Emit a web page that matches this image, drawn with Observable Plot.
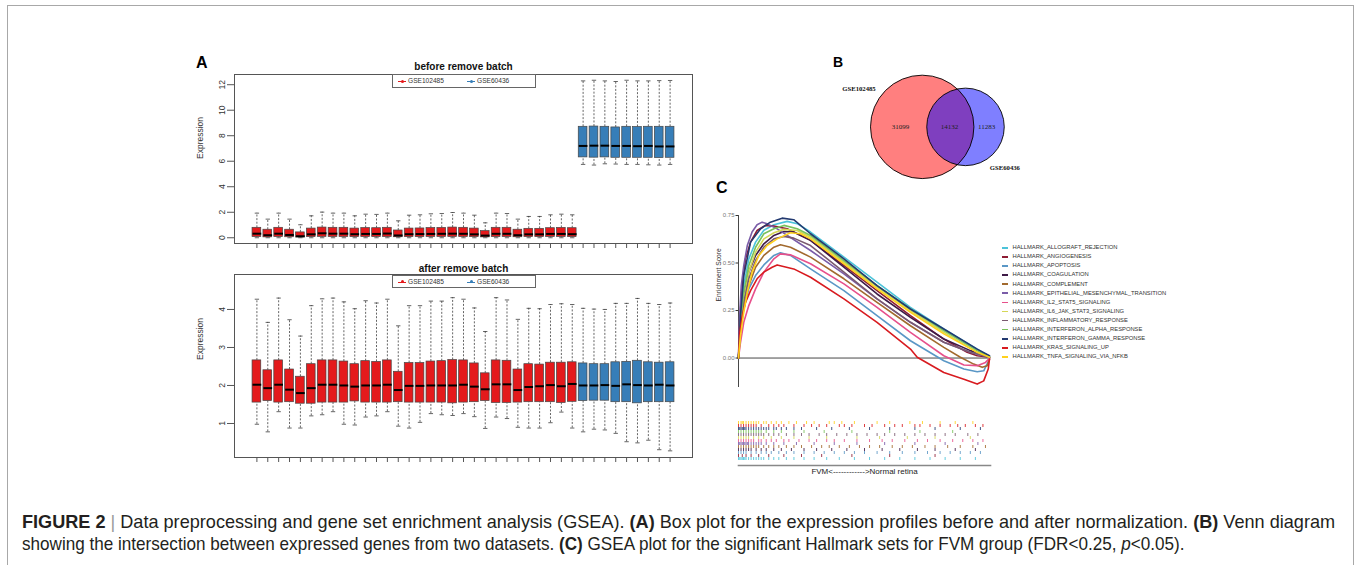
<!DOCTYPE html>
<html><head><meta charset="utf-8">
<script src="https://cdn.jsdelivr.net/npm/d3@7"></script>
<script src="https://cdn.jsdelivr.net/npm/@observablehq/plot@0.6"></script>
<style>
html,body{margin:0;padding:0;background:#fff;}
body{width:1356px;height:565px;overflow:hidden;position:relative;font-family:"Liberation Sans",Arial,sans-serif;}
.border{position:absolute;left:7px;top:5px;width:1347px;height:620px;border:1.6px solid #a8a8a8;box-sizing:border-box;}
.plab{position:absolute;font-weight:bold;line-height:1;color:#000;}
.leg{position:absolute;border:1px solid #666;box-sizing:border-box;background:#fff;font-size:6.6px;color:#333;}
.leg .it{position:absolute;top:0;line-height:12px;}
.leg .sw{position:absolute;height:1px;}
.leg .pt{position:absolute;width:3px;height:3px;border-radius:50%;}
.gleg{position:absolute;left:1001px;top:243.2px;font-size:5.8px;color:#333;line-height:9.1px;}
.gleg div{position:relative;padding-left:11.5px;white-space:nowrap;}
.gleg span{position:absolute;left:1px;top:3.8px;width:6px;height:1.6px;}
#cap{position:absolute;left:22px;top:511px;font-family:"Liberation Sans",Arial,sans-serif;font-size:19px;line-height:22px;color:#231f20;white-space:nowrap;}
#cap .ln{display:block;transform-origin:0 0;}
#cap .bar{color:#9a9a9a;font-weight:normal;}
</style></head><body>
<div class="border"></div>
<script>
// ---------------- DATA ----------------
// Panel A: boxplot statistics per sample (30 GSE102485 + 9 GSE60436)
const groupNames = ["GSE102485", "GSE60436"];
const groupColors = ["#E41A1C", "#377EB8"];
const sampleGroup = [...Array(30).fill("GSE102485"), ...Array(9).fill("GSE60436")];

const beforeHigh = [1.93,1.46,1.93,1.46,1.02,1.72,2.01,1.93,1.93,1.72,1.85,1.83,1.93,1.33,1.77,1.80,1.88,1.90,1.98,1.93,1.77,1.17,1.93,1.90,1.46,1.67,1.67,1.80,1.85,1.80,
  12.30,12.35,12.30,12.25,12.35,12.30,12.30,12.32,12.33];
const beforeQ3 = [0.78,0.63,0.78,0.63,0.42,0.72,0.80,0.78,0.78,0.72,0.76,0.75,0.78,0.57,0.72,0.73,0.76,0.77,0.80,0.78,0.72,0.52,0.78,0.78,0.63,0.70,0.70,0.75,0.77,0.75,
  8.70,8.72,8.70,8.65,8.70,8.68,8.70,8.70,8.70];
const beforeMed = [0.32,0.20,0.32,0.22,0.12,0.27,0.35,0.32,0.32,0.28,0.30,0.30,0.33,0.18,0.28,0.29,0.30,0.31,0.32,0.31,0.27,0.17,0.31,0.31,0.20,0.27,0.27,0.30,0.30,0.28,
  7.20,7.22,7.22,7.20,7.20,7.18,7.20,7.16,7.16];
const beforeQ1 = [0.06,0.03,0.06,0.04,0.02,0.05,0.07,0.06,0.06,0.05,0.06,0.06,0.06,0.04,0.05,0.05,0.06,0.06,0.06,0.06,0.05,0.03,0.06,0.06,0.04,0.05,0.05,0.06,0.06,0.05,
  6.30,6.28,6.30,6.27,6.27,6.27,6.27,6.25,6.27];
const beforeLow = [0,0,0,0,0,0,0,0,0,0,0,0,0,0,0,0,0,0,0,0,0,0,0,0,0,0,0,0,0,0,
  5.75,5.70,5.80,5.78,5.75,5.75,5.72,5.70,5.75];

const afterHigh = [4.27,3.66,4.30,3.73,3.30,4.10,4.28,4.30,4.20,4.02,4.23,4.17,4.27,3.57,4.10,4.10,4.22,4.22,4.31,4.27,4.04,3.42,4.31,4.25,3.74,4.03,4.02,4.13,4.15,4.13,
  4.03,4.01,4.00,4.16,4.16,4.29,4.16,4.13,4.17];
const afterQ3 = [2.66,2.40,2.66,2.42,2.23,2.56,2.66,2.66,2.63,2.56,2.64,2.62,2.66,2.36,2.59,2.59,2.63,2.64,2.67,2.66,2.58,2.32,2.66,2.65,2.42,2.56,2.55,2.60,2.60,2.61,
  2.58,2.56,2.56,2.61,2.62,2.65,2.61,2.60,2.61];
const afterMed = [2.02,1.93,2.02,1.89,1.80,1.93,2.02,2.02,2.00,1.97,2.00,2.00,2.02,1.88,1.99,1.99,2.00,2.00,2.00,2.02,1.97,1.90,2.03,2.03,1.88,1.96,1.98,2.01,1.98,2.04,
  2.00,2.00,2.01,1.99,2.03,2.01,2.00,2.02,2.00];
const afterQ1 = [1.55,1.59,1.55,1.56,1.52,1.52,1.55,1.55,1.55,1.58,1.55,1.55,1.55,1.56,1.55,1.55,1.55,1.55,1.53,1.55,1.56,1.59,1.54,1.54,1.55,1.56,1.56,1.56,1.54,1.57,
  1.59,1.60,1.60,1.56,1.56,1.53,1.56,1.56,1.56];
const afterLow = [0.98,0.78,1.31,0.88,0.88,1.20,1.23,1.31,0.98,0.96,1.17,1.20,1.31,0.93,0.88,1.03,1.26,1.23,1.21,1.26,1.18,0.87,1.17,1.13,0.90,0.88,0.88,1.02,1.30,0.88,
  0.78,0.85,0.83,0.74,0.52,0.49,0.56,0.31,0.28];

const beforeTicks = [0, 2, 4, 6, 8, 10, 12];
const afterTicks = [1, 2, 3, 4];

// Panel B: Venn counts
const vennOnlyA = 31099, vennBoth = 14132, vennOnlyB = 11283;
const vennNames = ["GSE102485", "GSE60436"];

// Panel C: GSEA running enrichment score, [rank fraction, ES]
const setNames = ["HALLMARK_ALLOGRAFT_REJECTION","HALLMARK_ANGIOGENESIS","HALLMARK_APOPTOSIS","HALLMARK_COAGULATION","HALLMARK_COMPLEMENT",
  "HALLMARK_EPITHELIAL_MESENCHYMAL_TRANSITION","HALLMARK_IL2_STAT5_SIGNALING","HALLMARK_IL6_JAK_STAT3_SIGNALING","HALLMARK_INFLAMMATORY_RESPONSE",
  "HALLMARK_INTERFERON_ALPHA_RESPONSE","HALLMARK_INTERFERON_GAMMA_RESPONSE","HALLMARK_KRAS_SIGNALING_UP","HALLMARK_TNFA_SIGNALING_VIA_NFKB"];
const setColors = ["#4CC3D9","#8E1C34","#5A97C6","#3E1A47","#A26A2E","#7A5CA8","#E7508B","#D5D757","#7A5A70","#79C25B","#233A70","#D81B20","#FFD11C"];
const esTicks = [0, 0.25, 0.5, 0.75];

const esAllograft = [[0,0],[.008,.206],[.021,.381],[.041,.522],[.068,.61],[.101,.672],[.141,.701],[.194,.719],[.234,.707],[.287,.663],[.42,.531],[.552,.399],[.685,.267],[.818,.153],[.951,.047],[1,.009]];
const esAngiogenesis = [[0,0],[.005,.206],[.015,.381],[.028,.522],[.048,.61],[.074,.671],[.107,.698],[.141,.694],[.194,.68],[.287,.619],[.42,.487],[.552,.355],[.685,.223],[.818,.1],[.911,.03],[.951,.012],[1,.004]];
const esApoptosis = [[0,0],[.008,.135],[.021,.258],[.041,.364],[.068,.434],[.101,.49],[.141,.54],[.167,.554],[.207,.54],[.287,.469],[.42,.355],[.552,.223],[.685,.091],[.818,-.014],[.898,-.058],[.951,-.072],[.977,-.067],[1,-.005]];
const esCoagulation = [[0,0],[.008,.17],[.021,.329],[.041,.452],[.068,.54],[.101,.601],[.141,.645],[.181,.666],[.22,.663],[.287,.619],[.42,.478],[.552,.337],[.685,.214],[.818,.1],[.924,.039],[1,.004]];
const esComplement = [[0,0],[.008,.153],[.021,.276],[.041,.381],[.068,.478],[.101,.54],[.141,.583],[.167,.596],[.207,.583],[.287,.531],[.42,.417],[.552,.293],[.685,.17],[.818,.056],[.884,.004],[.937,-.032],[.971,-.049],[.991,-.04],[1,-.005]];
const esEmt = [[0,0],[.004,.206],[.011,.381],[.021,.486],[.035,.592],[.054,.663],[.074,.701],[.094,.715],[.114,.706],[.154,.68],[.287,.566],[.42,.443],[.552,.311],[.685,.188],[.818,.083],[.924,.03],[1,.004]];
const esIl2 = [[0,0],[.008,.083],[.021,.188],[.041,.276],[.068,.364],[.101,.452],[.141,.522],[.167,.548],[.207,.543],[.287,.496],[.42,.39],[.552,.267],[.685,.135],[.818,.012],[.898,-.037],[.951,-.04],[.984,-.023],[1,-.002]];
const esIl6 = [[0,0],[.008,.17],[.021,.311],[.041,.452],[.068,.557],[.101,.627],[.141,.659],[.181,.677],[.234,.671],[.287,.636],[.42,.504],[.552,.373],[.685,.25],[.818,.135],[.951,.03],[1,.004]];
const esInflammatory = [[0,0],[.008,.153],[.021,.293],[.041,.417],[.068,.513],[.101,.583],[.141,.627],[.181,.64],[.22,.631],[.287,.592],[.42,.452],[.552,.311],[.685,.188],[.818,.083],[.924,.03],[1,.004]];
const esIfnAlpha = [[0,0],[.008,.188],[.021,.346],[.041,.487],[.068,.583],[.101,.654],[.141,.68],[.181,.698],[.234,.68],[.287,.645],[.42,.513],[.552,.381],[.685,.258],[.818,.144],[.951,.039],[1,.004]];
const esIfnGamma = [[0,0],[.008,.223],[.021,.434],[.048,.61],[.088,.68],[.127,.715],[.174,.736],[.22,.728],[.287,.654],[.42,.522],[.552,.381],[.685,.258],[.818,.153],[.951,.047],[1,.012]];
const esKras = [[0,0],[.005,.135],[.015,.223],[.028,.293],[.048,.355],[.074,.417],[.101,.452],[.134,.478],[.154,.49],[.22,.469],[.287,.425],[.42,.311],[.552,.188],[.685,.047],[.712,.004],[.818,-.076],[.898,-.111],[.951,-.137],[.977,-.12],[.995,-.058],[1,-.005]];
const esTnfa = [[0,0],[.008,.118],[.021,.241],[.035,.346],[.054,.452],[.081,.54],[.114,.592],[.154,.627],[.207,.659],[.247,.654],[.287,.627],[.42,.496],[.552,.364],[.685,.241],[.818,.127],[.951,.03],[1,.004]];
const esCurves = [esAllograft, esAngiogenesis, esApoptosis, esCoagulation, esComplement, esEmt, esIl2, esIl6, esInflammatory, esIfnAlpha, esIfnGamma, esKras, esTnfa];

// hit positions (percent of ranked list) for each set
const hitAllograft = [0,0.5,1,1.5,2,2.5,3,4,5,6,7,8,9,10,12,14,16,19,22,26,30,35,40,46,52,58,64,70,76,82,88,94];
const hitAngiogenesis = [0,1.5,3,5,8,12,18,25,33,45,60,78];
const hitApoptosis = [0,1,2,3,5,7,9,11,13,16,19,22,26,30,34,38,42,46,50,55,60,65,70,75,80,84,88,92,96];
const hitCoagulation = [0,1,2,3,4,5,7,9,11,14,17,21,26,31,37,43,50,57,64,71,78,86,94];
const hitComplement = [0,1,2,3,4,5,6,7,8,10,12,14,16,19,22,25,29,33,36,40,44,48,52,56,61,65,69,74,78,83,88,93,98];
const hitEmt = [0,0.5,1,1.5,2,2.5,3,3.5,4,5,6,7,8,9,11,14,18,23,30,38,47,58,70,82,95];
const hitIl2 = [0,1,2,3,4,5,6,8,9,11,13,15,18,20,24,28,31,35,38,42,47,52,57,61,66,71,75,80,85,89,93,97];
const hitIl6 = [0,1,2,3,4,6,8,10,13,17,22,28,35,47,56,67,78,92];
const hitInflammatory = [0,1,2,3,4,5,6,7,8,9,10,12,14,16,19,22,25,28,32,35,39,43,47,51,55,58,62,66,70,74,78,82,86,91,95];
const hitIfnAlpha = [0,1,2,3,4,5,6,7,8,9,11,14,17,22,26,34,45,60,72,85];
const hitIfnGamma = [0,0.5,1,1.5,2,2.5,3,4,5,6,7,8,9,10,11,12,14,15,17,19,22,25,31,37,44,52,60,70,78,88,96];
const hitKras = [0,1,2,3,4,5,6,7,9,12,14,16,18,22,26,29,32,35,40,42,45,50,53,58,62,65,70,72,76,80,84,87,90,94,97];
const hitTnfa = [0,1,1.5,2,3,4,5,6,7,8,10,11,13,15,17,20,23,27,30,36,38,41,46,55,60,68,73,80,86,93];
const hitLists = [hitAllograft, hitAngiogenesis, hitApoptosis, hitCoagulation, hitComplement, hitEmt, hitIl2, hitIl6, hitInflammatory, hitIfnAlpha, hitIfnGamma, hitKras, hitTnfa];

// ---------------- RENDER ----------------
const FONT = '"Liberation Sans", Arial, sans-serif';
function place(node, left, top) {
  node.style.position = "absolute";
  node.style.left = left + "px";
  node.style.top = top + "px";
  document.body.appendChild(node);
  return node;
}
function div(cls, html, css) {
  const d = document.createElement("div");
  if (cls) d.className = cls;
  d.innerHTML = html || "";
  Object.assign(d.style, css || {});
  document.body.appendChild(d);
  return d;
}

function boxPanel(high, q3, med, q1, low, yDomain, yTicks, title, titleDy, height, ylabDy) {
  const rows = high.map((h, i) => ({i: i + 1, group: sampleGroup[i], high: h, q3: q3[i], med: med[i], q1: q1[i], low: low[i]}));
  const wh = {stroke: "#333", strokeWidth: 0.75, strokeDasharray: "2,1.6"};
  const cap = {stroke: "#333", strokeWidth: 0.75};
  return Plot.plot({
    width: 518, height, marginLeft: 54, marginRight: 6, marginTop: 24, marginBottom: 10,
    x: {domain: [-1.06, 41.06], axis: null, label: null},
    y: {domain: yDomain, axis: null, label: null},
    color: {domain: groupNames, range: groupColors},
    style: {fontFamily: FONT, background: "transparent", overflow: "visible", color: "#333"},
    marks: [
      Plot.ruleX(rows, {x: "i", y1: "q3", y2: "high", ...wh}),
      Plot.ruleX(rows, {x: "i", y1: "low", y2: "q1", ...wh}),
      Plot.link(rows, {x1: d => d.i - 0.2, x2: d => d.i + 0.2, y1: "high", y2: "high", ...cap}),
      Plot.link(rows, {x1: d => d.i - 0.2, x2: d => d.i + 0.2, y1: "low", y2: "low", ...cap}),
      Plot.rect(rows, {x1: d => d.i - 0.4, x2: d => d.i + 0.4, y1: "q1", y2: "q3", fill: "group", stroke: "#444", strokeWidth: 0.7}),
      Plot.link(rows, {x1: d => d.i - 0.4, x2: d => d.i + 0.4, y1: "med", y2: "med", stroke: "#000", strokeWidth: 2}),
      Plot.frame({stroke: "#555", strokeWidth: 1}),
      Plot.axisY(yTicks, {tickSize: 7, tickPadding: 3, tickRotate: -90, fontSize: 8.5, stroke: "#555", label: null}),
      Plot.axisX(rows.map(d => d.i), {tickSize: 5, tickFormat: () => "", stroke: "#555", label: null}),
      Plot.text([title], {text: d => d, frameAnchor: "top", lineAnchor: "middle", dy: titleDy, fontWeight: "bold", fontSize: 10, fill: "#111"}),
      Plot.text(["Expression"], {text: d => d, frameAnchor: "left", dx: -34, dy: ylabDy, rotate: -90, fontSize: 8.5, fill: "#333"})
    ]
  });
}

place(boxPanel(beforeHigh, beforeQ3, beforeMed, beforeQ1, beforeLow, [-0.45, 12.8], beforeTicks, "before remove batch", -7.5, 203, 0), 180, 50);
place(boxPanel(afterHigh, afterQ3, afterMed, afterQ1, afterLow, [0.105, 4.92], afterTicks, "after remove batch", -5.5, 217, -6), 180, 250);

// legends for panel A
function boxLegend(top) {
  const html = groupNames.map((g, k) => {
    const x0 = k === 0 ? 5 : 74;
    return `<span class="sw" style="left:${x0}px;top:6px;width:8px;background:${groupColors[k]}"></span>` +
      `<span class="pt" style="left:${x0 + 2.5}px;top:4.5px;background:${groupColors[k]}"></span>` +
      `<span class="it" style="left:${x0 + 10}px">${g}</span>`;
  }).join("");
  div("leg", html, {left: "392px", top: top + "px", width: "144px", height: "13.5px"});
}
boxLegend(74);
boxLegend(274.5);

// Panel B: Venn
const vennTotals = [vennOnlyA + vennBoth, vennOnlyB + vennBoth];
const vennCircles = vennNames.map((n, k) => ({name: n, total: vennTotals[k], cx: k, fill: k === 0 ? "#FF0000" : "#0000FF"}));
const vennCounts = [{v: vennOnlyA, cx: -0.5}, {v: vennBoth, cx: 0.63}, {v: vennOnlyB, cx: 1.49}];
const vennLabels = [{name: vennNames[0], cx: -1.46, cy: 0.88}, {name: vennNames[1], cx: 1.91, cy: -0.94}];
place(Plot.plot({
  width: 220, height: 140, margin: 0,
  x: {domain: [-2.349, 2.732], axis: null},
  y: {domain: [-1.469, 1.764], axis: null},
  r: {type: "sqrt", domain: [0, vennTotals[0]], range: [0, 51.7]},
  style: {background: "transparent", overflow: "visible"},
  marks: [
    Plot.dot(vennCircles, {x: "cx", y: () => 0, r: "total", fill: d => d.fill, fillOpacity: 0.5, stroke: "none"}),
    Plot.dot(vennCircles, {x: "cx", y: () => 0, r: "total", fill: "none", stroke: "#000", strokeWidth: 0.9}),
    Plot.text(vennCounts, {x: "cx", y: () => 0, text: d => String(d.v), fontFamily: '"Liberation Serif", serif', fontSize: 7, fill: "#222"}),
    Plot.text(vennLabels, {x: "cx", y: "cy", text: "name", fontFamily: '"Liberation Serif", serif', fontWeight: "bold", fontSize: 6.7, fill: "#111"})
  ]
}), 820, 50);

// Panel C: running ES curves
const curveRows = setNames.flatMap((name, k) => esCurves[k].map(([t, es]) => ({name, t, es})));
place(Plot.plot({
  width: 304, height: 197, marginLeft: 48, marginRight: 5, marginTop: 20, marginBottom: 5,
  x: {domain: [0, 1], axis: null, label: null},
  y: {domain: [-0.155, 0.75], axis: null, label: null},
  color: {domain: setNames, range: setColors},
  style: {fontFamily: FONT, background: "transparent", overflow: "visible"},
  marks: [
    Plot.ruleY([0], {stroke: "#333", strokeWidth: 0.9}),
    Plot.ruleX([0], {stroke: "#333", strokeWidth: 0.9}),
    Plot.line(curveRows, {x: "t", y: "es", z: "name", stroke: "name", strokeWidth: 1.6, curve: "linear"}),
    Plot.axisY(esTicks, {tickFormat: d3.format(".2f"), tickSize: 2.5, tickPadding: 1.5, fontSize: 6, fill: "#777", stroke: "#333", label: null}),
    Plot.text(["Enrichment Score"], {text: d => d, frameAnchor: "left", dx: -20, rotate: -90, fontSize: 6.7, fill: "#333"})
  ]
}), 690, 195);

// Panel C legend
div("gleg", setNames.map((n, k) => `<div><span style="background:${setColors[k]}"></span>${n}</div>`).join(""));

// Panel C hit bars
const hitRows = setNames.flatMap((name, k) => hitLists[k].map(p => ({name, p})));
place(Plot.plot({
  width: 252, height: 62, marginLeft: 0, marginRight: 0, marginTop: 0, marginBottom: 12,
  x: {domain: [0, 100], axis: null, label: null},
  y: {domain: setNames.slice().reverse(), axis: null, padding: 0, label: null},
  color: {domain: setNames, range: setColors},
  style: {fontFamily: FONT, background: "transparent", overflow: "visible"},
  marks: [
    Plot.tickX(hitRows, {x: "p", y: "name", stroke: "name", strokeWidth: 1, strokeOpacity: 0.85}),
    Plot.frame({anchor: "bottom", stroke: "#888", strokeWidth: 1.6}),
    Plot.text(["FVM<------------>Normal retina"], {text: d => d, frameAnchor: "bottom", lineAnchor: "middle", dy: 6, fontSize: 8, fill: "#222"})
  ]
}), 738, 415);

// panel letters
div("plab", "A", {left: "196px", top: "55px", fontSize: "16px"});
div("plab", "B", {left: "833px", top: "55px", fontSize: "14px"});
div("plab", "C", {left: "716px", top: "180px", fontSize: "16px"});

// caption
div("", `<span class="ln" style="transform:scaleX(0.953)"><b>FIGURE 2</b> <span class="bar">|</span> Data preprocessing and gene set enrichment analysis (GSEA). <b>(A)</b> Box plot for the expression profiles before and after normalization. <b>(B)</b> Venn diagram</span>` +
  `<span class="ln" style="transform:scaleX(0.9)">showing the intersection between expressed genes from two datasets. <b>(C)</b> GSEA plot for the significant Hallmark sets for FVM group (FDR&lt;0.25, <i>p</i>&lt;0.05).</span>`).id = "cap";
</script>
</body></html>
